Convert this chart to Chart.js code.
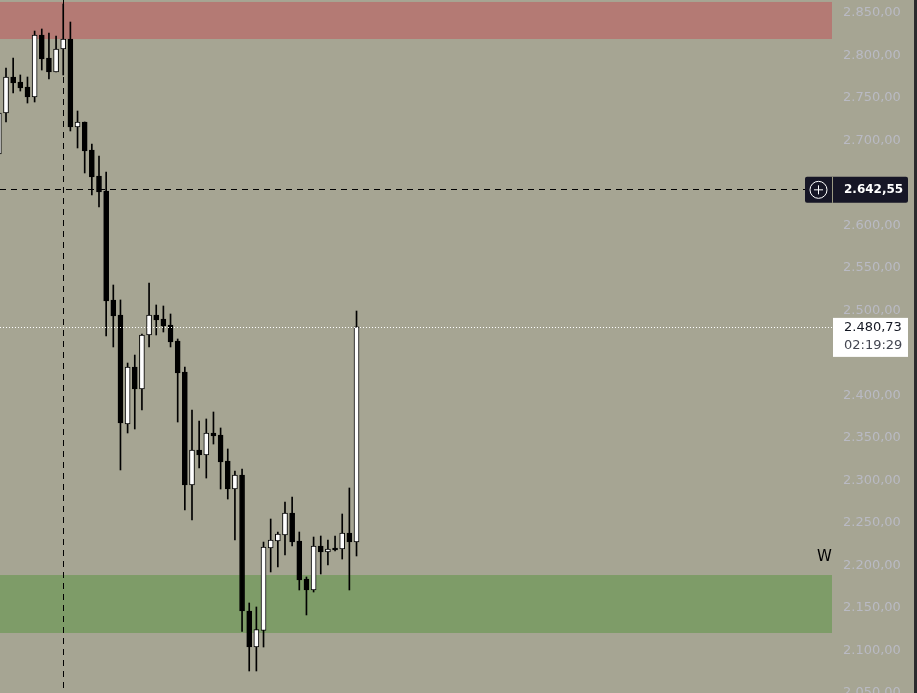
<!DOCTYPE html>
<html>
<head>
<meta charset="utf-8">
<script src="https://cdn.jsdelivr.net/npm/chart.js@4/dist/chart.umd.min.js"></script>
<style>
  html, body { margin: 0; padding: 0; background: #a6a593; overflow: hidden; }
  #wrap { width: 917px; height: 693px; }
</style>
</head>
<body>
<div id="wrap"><canvas id="c" width="917" height="693"></canvas></div>
<script>
// ---- Data ----
const candleIndex = [-1,0,1,2,3,4,5,6,7,8,9,10,11,12,13,14,15,16,17,18,19,20,21,22,23,24,25,26,27,28,29,30,31,32,33,34,35,36,37,38,39,40,41,42,43,44,45,46,47,48,49];
const opens  = [2684.1,2732.4,2774.7,2768.8,2762.9,2751.2,2824.1,2797.1,2780.6,2807.6,2819.4,2715.9,2721.8,2688.8,2658.2,2640.6,2512.4,2494.7,2366.5,2433.5,2407.6,2471.2,2494.7,2490.0,2482.9,2464.1,2427.6,2294.7,2335.9,2330.0,2355.9,2353.5,2322.9,2290.0,2306.5,2146.5,2104.1,2123.5,2220.6,2228.8,2235.9,2261.8,2228.8,2184.1,2171.2,2222.9,2215.9,2220.6,2219.4,2238.2,2227.6];
const highs  = [2738.0,2785.3,2797.1,2777.1,2774.7,2828.8,2831.2,2826.5,2822.9,2860.6,2839.4,2734.7,2721.8,2695.9,2681.8,2662.9,2530.0,2512.4,2438.2,2447.6,2472.4,2532.4,2506.5,2505.3,2495.9,2466.5,2433.5,2382.9,2370.0,2372.4,2380.6,2361.8,2337.1,2311.2,2313.5,2155.9,2151.2,2227.6,2254.7,2239.4,2274.7,2280.6,2239.4,2186.5,2233.5,2234.7,2230.0,2234.7,2260.6,2291.2,2499.4];
const lows   = [2683.0,2721.8,2755.9,2758.2,2744.1,2745.3,2782.9,2772.4,2780.6,2777.1,2711.2,2691.2,2661.8,2635.9,2621.8,2470.0,2457.1,2312.4,2355.9,2360.6,2382.9,2457.1,2471.2,2474.7,2457.1,2368.8,2265.3,2253.5,2314.7,2302.9,2342.9,2290.0,2278.2,2230.0,2122.4,2075.9,2075.9,2104.1,2192.4,2198.2,2212.4,2222.9,2171.2,2141.8,2168.8,2190.0,2200.6,2217.1,2207.6,2171.2,2211.2];
const closes = [2732.4,2774.7,2767.6,2761.8,2751.2,2824.1,2795.9,2780.6,2807.6,2819.4,2715.9,2721.8,2687.6,2657.1,2639.4,2511.2,2493.5,2367.6,2433.5,2407.6,2471.2,2494.7,2488.8,2481.8,2462.9,2426.5,2294.7,2335.9,2330.0,2355.9,2352.4,2321.8,2290.0,2306.5,2146.5,2104.1,2124.7,2221.8,2230.0,2237.1,2261.8,2227.6,2182.9,2171.2,2222.9,2215.9,2219.4,2218.2,2238.2,2227.6,2480.73];

const yTickStep = 50;
const yMin = 2050, yMax = 2865.3;
const xMin = -0.84, xMax = 115.47;

const supplyZone = [2819.4, 2863.0];   // red
const demandZone = [2120.6, 2188.8];   // green
const crosshairPrice = 2642.55;
const crosshairIndex = 8;
const lastPrice = 2480.73;
const countdown = '02:19:29';
const zoneLabel = 'W';
const zoneLabelPrice = 2200.6;

// ---- helpers ----
function fmt(v) {
  const s = v.toFixed(2);
  const parts = s.split('.');
  return parts[0].replace(/\B(?=(\d{3})+(?!\d))/g, '.') + ',' + parts[1];
}

const bodyData = candleIndex.map((x, i) => ({ x: x, y: [opens[i], closes[i]] }));
const wickData = candleIndex.map((x, i) => ({ x: x, y: [lows[i], highs[i]] }));
const bodyColors = candleIndex.map((x, i) => closes[i] >= opens[i] ? '#ffffff' : '#000000');

const BG = '#a6a593';
const FONT = '"DejaVu Sans", sans-serif';

const decor = {
  id: 'decor',
  beforeDraw(chart) {
    const ctx = chart.ctx;
    ctx.save();
    ctx.fillStyle = BG;
    ctx.fillRect(0, 0, chart.width, chart.height);
    ctx.fillStyle = '#2b2b2e';
    ctx.fillRect(914, 0, chart.width - 914, chart.height);
    ctx.restore();
  },
  beforeDatasetsDraw(chart) {
    const ctx = chart.ctx, a = chart.chartArea;
    const ys = chart.scales.y, xs = chart.scales.x;
    ctx.save();
    // zones
    ctx.fillStyle = '#b47a74';
    let t = ys.getPixelForValue(supplyZone[1]), b = ys.getPixelForValue(supplyZone[0]);
    ctx.fillRect(a.left, t, a.right - a.left, b - t);
    ctx.fillStyle = '#7e9c68';
    t = ys.getPixelForValue(demandZone[1]); b = ys.getPixelForValue(demandZone[0]);
    ctx.fillRect(a.left, t, a.right - a.left, b - t);
    // crosshair
    ctx.strokeStyle = '#000000';
    ctx.lineWidth = 1;
    ctx.setLineDash([6, 5]);
    const cy = Math.round(ys.getPixelForValue(crosshairPrice)) + 0.5;
    ctx.beginPath(); ctx.moveTo(a.left, cy); ctx.lineTo(805, cy); ctx.stroke();
    const cx = Math.round(xs.getPixelForValue(crosshairIndex)) + 0.5;
    ctx.beginPath(); ctx.moveTo(cx, 0); ctx.lineTo(cx, chart.height); ctx.stroke();
    ctx.restore();
  },
  afterDatasetsDraw(chart) {
    const ctx = chart.ctx, a = chart.chartArea;
    const ys = chart.scales.y;
    ctx.save();
    ctx.strokeStyle = '#ffffff';
    ctx.lineWidth = 1;
    ctx.setLineDash([1, 2]);
    const ly = Math.round(ys.getPixelForValue(lastPrice)) + 0.5;
    ctx.beginPath(); ctx.moveTo(a.left, ly); ctx.lineTo(a.right, ly); ctx.stroke();
    ctx.restore();
  },
  afterDraw(chart) {
    const ctx = chart.ctx;
    const ys = chart.scales.y;
    ctx.save();
    // crosshair price box
    const cy = ys.getPixelForValue(crosshairPrice);
    ctx.fillStyle = '#161626';
    ctx.beginPath();
    ctx.roundRect(805, cy - 12.5, 103, 26, 2);
    ctx.fill();
    ctx.fillStyle = '#9c9b84';
    ctx.fillRect(832, cy - 12.5, 1, 26);
    ctx.strokeStyle = '#ffffff';
    ctx.lineWidth = 1;
    ctx.beginPath(); ctx.arc(818.5, cy + 0.5, 8.5, 0, Math.PI * 2); ctx.stroke();
    ctx.beginPath();
    ctx.moveTo(814, cy + 0.5); ctx.lineTo(823, cy + 0.5);
    ctx.moveTo(818.5, cy - 4); ctx.lineTo(818.5, cy + 5);
    ctx.stroke();
    ctx.fillStyle = '#ffffff';
    ctx.font = 'bold 12px ' + FONT;
    ctx.textAlign = 'left';
    ctx.textBaseline = 'middle';
    ctx.fillText(fmt(crosshairPrice), 844, cy + 1);
    // last price box
    const ly = ys.getPixelForValue(lastPrice);
    ctx.fillStyle = '#ffffff';
    ctx.fillRect(833, ly - 9, 75, 39);
    ctx.font = '13px ' + FONT;
    ctx.fillStyle = '#131722';
    ctx.fillText(fmt(lastPrice), 844, ly + 1);
    ctx.fillStyle = '#434651';
    ctx.fillText(countdown, 844, ly + 19);
    // zone label
    ctx.fillStyle = '#000000';
    ctx.font = '15px ' + FONT;
    ctx.fillText(zoneLabel, 817, ys.getPixelForValue(zoneLabelPrice) - 8);
    ctx.restore();
  }
};

new Chart(document.getElementById('c'), {
  type: 'bar',
  data: {
    datasets: [
      {
        label: 'body',
        data: bodyData,
        backgroundColor: bodyColors,
        borderColor: '#000000',
        borderWidth: 1,
        borderSkipped: false,
        barThickness: 5,
        grouped: false
      },
      {
        label: 'wick',
        data: wickData,
        backgroundColor: '#000000',
        borderWidth: 0,
        barThickness: 1,
        grouped: false
      }
    ]
  },
  options: {
    responsive: false,
    animation: false,
    devicePixelRatio: 1,
    layout: { padding: 0 },
    plugins: { legend: { display: false }, tooltip: { enabled: false } },
    scales: {
      x: {
        type: 'linear',
        min: xMin,
        max: xMax,
        offset: false,
        display: false
      },
      y: {
        type: 'linear',
        position: 'right',
        min: yMin,
        max: yMax,
        beginAtZero: false,
        grid: { display: false, drawTicks: false },
        border: { display: false },
        ticks: {
          stepSize: yTickStep,
          includeBounds: false,
          autoSkip: false,
          padding: 11,
          color: '#b9bac3',
          font: { family: FONT, size: 13 },
          callback: (v) => (Math.abs(v % yTickStep) < 1e-6 ? fmt(v) : '')
        },
        afterFit(scale) {
          scale.width = 85;
          scale.paddingTop = 0;
          scale.paddingBottom = 0;
        }
      }
    }
  },
  plugins: [decor]
});
</script>
</body>
</html>
